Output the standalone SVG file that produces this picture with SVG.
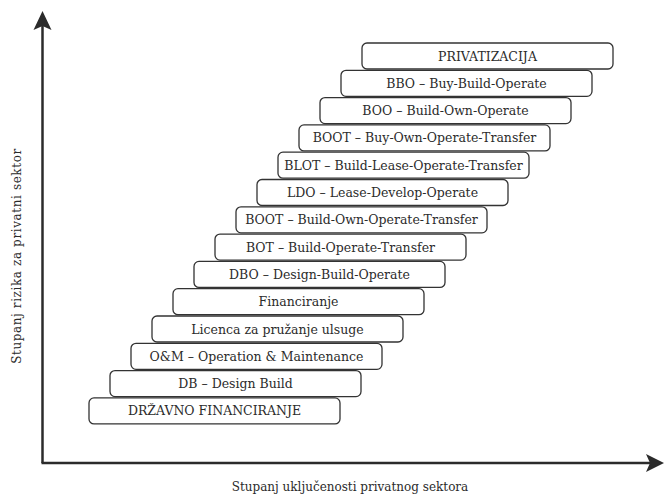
<svg xmlns="http://www.w3.org/2000/svg" width="664" height="495" viewBox="0 0 664 495">
<style>
.box rect{fill:#fff;stroke:#333;stroke-width:1.3}
.box text,.lbl{font-family:"DejaVu Serif","Liberation Serif",serif;font-size:12.5px;fill:#2b2b2b;text-anchor:middle}
.lbl{font-size:12px}
.axis{stroke:#2b2b2b;stroke-width:2.5;fill:none}
.head{fill:#2b2b2b}
</style>
<rect width="664" height="495" fill="#fff"/>
<g id="axes">
<line class="axis" x1="42.5" y1="463" x2="42.5" y2="26"/>
<path class="head" d="M42.5 11 L51.5 30 L42.5 26 L33.5 30 Z"/>
<line class="axis" x1="41.5" y1="463" x2="650" y2="463"/>
<path class="head" d="M664 463 L646 472 L650 463 L646 454 Z"/>
</g>
<g id="n1" class="box"><rect x="362" y="43" width="251" height="26" rx="5"/><text x="487.5" y="60.5">PRIVATIZACIJA</text></g>
<g id="n2" class="box"><rect x="341" y="70.3" width="251" height="26" rx="5"/><text x="466.5" y="87.8">BBO – Buy-Build-Operate</text></g>
<g id="n3" class="box"><rect x="320" y="97.6" width="251" height="26" rx="5"/><text x="445.5" y="115.1">BOO – Build-Own-Operate</text></g>
<g id="n4" class="box"><rect x="299" y="124.9" width="251" height="26" rx="5"/><text x="424.5" y="142.4">BOOT – Buy-Own-Operate-Transfer</text></g>
<g id="n5" class="box"><rect x="278" y="152.2" width="251" height="26" rx="5"/><text x="403.5" y="169.7">BLOT – Build-Lease-Operate-Transfer</text></g>
<g id="n6" class="box"><rect x="257" y="179.5" width="251" height="26" rx="5"/><text x="382.5" y="197">LDO – Lease-Develop-Operate</text></g>
<g id="n7" class="box"><rect x="236" y="206.8" width="251" height="26" rx="5"/><text x="361.5" y="224.3">BOOT – Build-Own-Operate-Transfer</text></g>
<g id="n8" class="box"><rect x="215" y="234.1" width="251" height="26" rx="5"/><text x="340.5" y="251.6">BOT – Build-Operate-Transfer</text></g>
<g id="n9" class="box"><rect x="194" y="261.4" width="251" height="26" rx="5"/><text x="319.5" y="278.9">DBO – Design-Build-Operate</text></g>
<g id="n10" class="box"><rect x="173" y="288.7" width="251" height="26" rx="5"/><text x="298.5" y="306.2">Financiranje</text></g>
<g id="n11" class="box"><rect x="152" y="316" width="251" height="26" rx="5"/><text x="277.5" y="333.5">Licenca za pružanje ulsuge</text></g>
<g id="n12" class="box"><rect x="131" y="343.3" width="251" height="26" rx="5"/><text x="256.5" y="360.8">O&amp;M – Operation &amp; Maintenance</text></g>
<g id="n13" class="box"><rect x="110" y="370.6" width="251" height="26" rx="5"/><text x="235.5" y="388.1">DB – Design Build</text></g>
<g id="n14" class="box"><rect x="89" y="397.9" width="251" height="26" rx="5"/><text x="214.5" y="415.4">DRŽAVNO FINANCIRANJE</text></g>
<text class="lbl" x="350" y="491">Stupanj uključenosti privatnog sektora</text>
<text class="lbl" transform="translate(21 256) rotate(-90)" style="letter-spacing:0.6px">Stupanj rizika za privatni sektor</text>
</svg>
